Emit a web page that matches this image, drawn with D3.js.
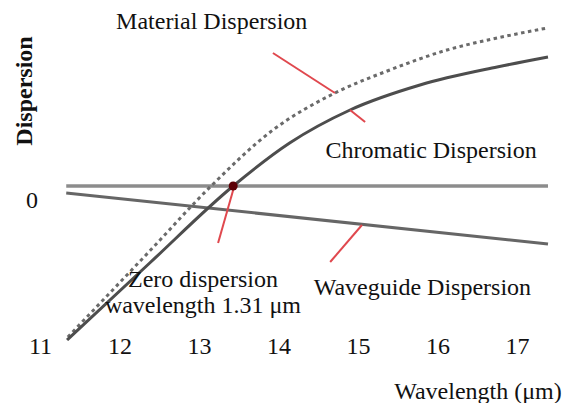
<!DOCTYPE html>
<html>
  <head>
    <meta charset="utf-8">
    <title>Dispersion vs Wavelength</title>
    <script src="https://d3js.org/d3.v7.min.js"></script>
  </head>
  <style>
    body { margin: 0; background: #fff; }
    svg { display: block; }
    text { font-family: "Liberation Serif", "Times New Roman", serif; fill: #111; }
    .tick text { font-size: 24px; }
    .pointer { stroke: #e0484e; stroke-width: 2; }
  </style>
  <body>
    <script type="text/javascript">
        var width = 570;
        var height = 403;

        // wavelength tick labels
        const xTicks = [11, 12, 13, 14, 15, 16, 17];

        // curves: [wavelength, dispersion]
        const chromatic = [[11.34, -15.4], [12.38, -7.7], [13.43, 0], [14.14, 4.3], [14.90, 7.6],
                           [15.78, 10.1], [16.75, 11.9], [17.39, 12.9]];
        const material = [[11.35, -15.1], [12.38, -6.5], [13.14, -0.1], [13.93, 5.6], [14.71, 9.3],
                          [15.40, 11.6], [16.12, 13.6], [16.75, 14.8], [17.38, 15.8]];
        const waveguide = [[11.33, -0.7], [17.39, -5.8]];
        const zeroLine = [[11.33, 0], [17.39, 0]];
        const zeroPoint = [13.43, 0];

        // red pointer lines [x1, y1, x2, y2]
        const pointers = [[13.93, 13.3, 14.71, 9.3], [14.90, 7.6, 15.09, 6.4],
                          [13.43, -0.4, 13.24, -5.7], [15.05, -3.9, 14.65, -7.6]];

        // annotations [x, y, text]
        const labels = [[13.16, 15.7, 'Material Dispersion'], [15.92, 2.8, 'Chromatic Dispersion'],
                        [15.81, -10.9, 'Waveguide Dispersion']];

        const svg = d3.select('body').append('svg').attr('width', width).attr('height', height);
        const x = d3.scaleLinear().domain([11, 17]).range([40, 517]);
        const y = d3.scaleLinear().domain([-16, 17]).range([346, 16]);
        const line = d3.line().x(d => x(d[0])).y(d => y(d[1]));
        const curve = d3.line().x(d => x(d[0])).y(d => y(d[1])).curve(d3.curveMonotoneX);

        svg.append('path').attr('d', line(zeroLine))
          .attr('fill', 'none').attr('stroke', '#8c8c8c').attr('stroke-width', 3.5);
        svg.append('path').attr('d', line(waveguide))
          .attr('fill', 'none').attr('stroke', '#666').attr('stroke-width', 3);
        svg.append('path').attr('d', curve(material))
          .attr('fill', 'none').attr('stroke', '#6a6a6a').attr('stroke-width', 3)
          .attr('stroke-dasharray', '3.5,3.5');
        svg.append('path').attr('d', curve(chromatic))
          .attr('fill', 'none').attr('stroke', '#4d4d4d').attr('stroke-width', 3);

        svg.selectAll('line.pointer').data(pointers).enter().append('line')
          .attr('class', 'pointer')
          .attr('x1', d => x(d[0])).attr('y1', d => y(d[1]))
          .attr('x2', d => x(d[2])).attr('y2', d => y(d[3]));

        svg.append('circle').attr('cx', x(zeroPoint[0])).attr('cy', y(zeroPoint[1]))
          .attr('r', 4.5).attr('fill', '#5c0006');

        svg.selectAll('text.label').data(labels).enter().append('text')
          .attr('class', 'label')
          .attr('x', d => x(d[0])).attr('y', d => y(d[1]))
          .attr('text-anchor', 'middle').attr('font-size', 24)
          .text(d => d[2]);

        const zero = svg.append('text')
          .attr('x', x(13.05)).attr('y', y(-10.1))
          .attr('text-anchor', 'middle').attr('font-size', 24);
        zero.append('tspan').attr('x', x(13.05)).text('Zero dispersion');
        zero.append('tspan').attr('x', x(13.05)).attr('dy', 26).text('wavelength 1.31 μm');

        // axes: labels only
        const gx = svg.append('g').attr('transform', 'translate(0,337)')
          .call(d3.axisBottom(x).tickValues(xTicks).tickFormat(d3.format('d')).tickSize(0).tickPadding(0));
        gx.select('.domain').remove();

        const gy = svg.append('g').attr('transform', 'translate(38,0)')
          .call(d3.axisLeft(y).tickValues([0]).tickFormat(d3.format('d')).tickSize(0).tickPadding(0));
        gy.select('.domain').remove();
        gy.selectAll('text').attr('dy', '0.88em');

        svg.append('text')
          .attr('transform', 'translate(32,91) rotate(-90)')
          .attr('text-anchor', 'middle').attr('font-size', 24).attr('font-weight', 'bold')
          .text('Dispersion');

        svg.append('text')
          .attr('x', 478).attr('y', 399)
          .attr('text-anchor', 'middle').attr('font-size', 24)
          .text('Wavelength (μm)');
      </script>
  </body>
</html>
